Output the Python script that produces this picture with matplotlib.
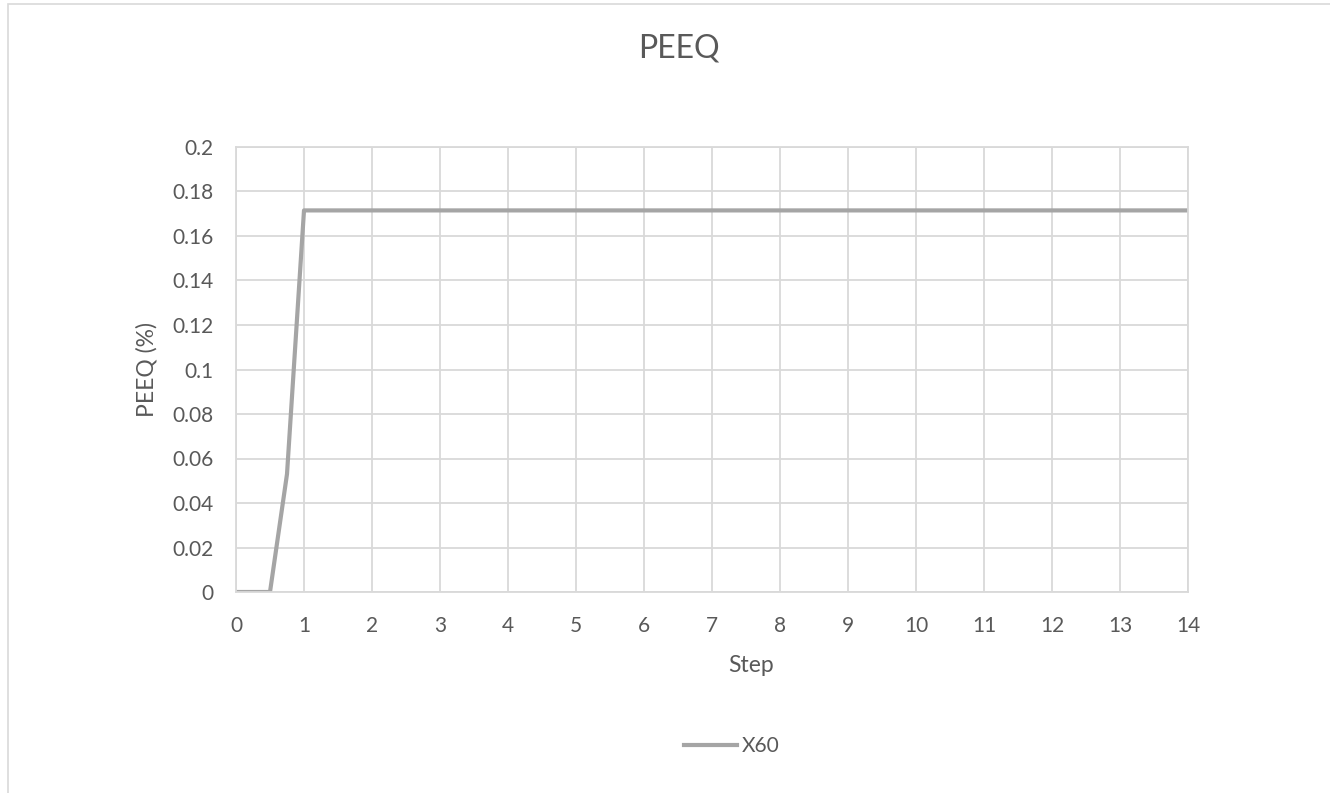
import matplotlib
matplotlib.use("Agg")
import matplotlib.pyplot as plt
from matplotlib.ticker import FuncFormatter, MultipleLocator
from matplotlib.patches import Rectangle

steps = [0, 0.5, 0.75, 1, 2, 3, 4, 5, 6, 7, 8, 9, 10, 11, 12, 13, 14]
peeq = [0, 0, 0.053, 0.1715, 0.1715, 0.1715, 0.1715, 0.1715, 0.1715, 0.1715,
        0.1715, 0.1715, 0.1715, 0.1715, 0.1715, 0.1715, 0.1715]
series_name = "X60"
title = "PEEQ"
xlabel = "Step"
ylabel = "PEEQ (%)"

plt.rcParams['font.family'] = ['Lato', 'DejaVu Sans']
txt = '#595959'
grid = '#d9d9d9'

fig = plt.figure(figsize=(13.3, 7.93), dpi=100)
fig.patches.append(Rectangle((8/1330, -0.01), 1.2, 1 - 4/793 + 0.01, transform=fig.transFigure,
                             fill=False, edgecolor='#d9d9d9', linewidth=1.2))
ax = fig.add_axes([236/1330, 1 - 592/793, (1188-236)/1330, (592-147)/793])

ax.plot(steps, peeq, color='#a5a5a5', linewidth=3, label=series_name, solid_joinstyle='round')
ax.set_xlim(0, 14)
ax.set_ylim(0, 0.2)
ax.xaxis.set_major_locator(MultipleLocator(1))
ax.yaxis.set_major_locator(MultipleLocator(0.02))
ax.yaxis.set_major_formatter(FuncFormatter(lambda v, p: f"{round(v, 2):g}"))
ax.grid(True, color=grid, linewidth=1.3)
ax.set_axisbelow(True)
for s in ax.spines.values():
    s.set_color(grid)
    s.set_linewidth(1.3)
ax.tick_params(length=0, labelsize=15, colors=txt)
ax.tick_params(axis='x', pad=17)
ax.tick_params(axis='y', pad=16)

fig.text(679/1330, 1 - 48/793, title, ha='center', va='center', fontsize=23, color=txt)
ax.set_xlabel(xlabel, fontsize=16.5, color=txt, va='center')
ax.xaxis.set_label_coords(515/952, (592-666)/445)
ax.set_ylabel(ylabel, fontsize=16.5, color=txt, labelpad=11)

leg = ax.legend(loc='center', bbox_to_anchor=(0.521, -0.347), frameon=False,
                fontsize=15, handlelength=2.55, handletextpad=0.25)
for t in leg.get_texts():
    t.set_color(txt)

fig.savefig("out.png", dpi=100, facecolor='white')
